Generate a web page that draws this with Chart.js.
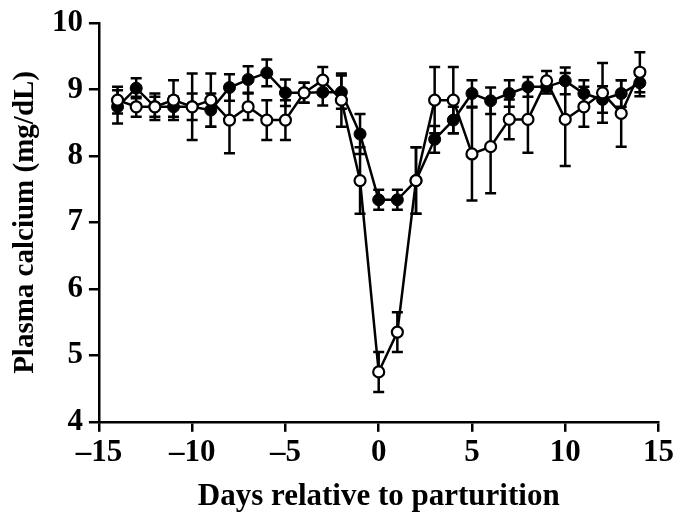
<!DOCTYPE html>
<html>
<head>
<meta charset="utf-8">
<script src="https://cdn.jsdelivr.net/npm/chart.js@4"></script>
<style>
  html, body { margin: 0; padding: 0; background: #fff; }
  #wrap { width: 678px; height: 516px; }
</style>
</head>
<body>
<div id="wrap"><canvas id="calciumChart"></canvas></div>
<script>
const days = [-14, -13, -12, -11, -10, -9, -8, -7, -6, -5, -4, -3, -2, -1, 0, 1, 2, 3, 4, 5, 6, 7, 8, 9, 10, 11, 12, 13, 14];
const filledMean = [8.74, 9.02, 8.74, 8.74, 8.74, 8.69, 9.03, 9.15, 9.25, 8.95, 8.95, 8.96, 8.96, 8.33, 7.34, 7.34, 7.63, 8.25, 8.54, 8.94, 8.83, 8.94, 9.04, 9.04, 9.13, 8.94, 8.85, 8.94, 9.1];
const filledErr = [0.25, 0.15, 0.2, 0.15, 0.2, 0.25, 0.2, 0.2, 0.2, 0.2, 0.15, 0.2, 0.25, 0.3, 0.15, 0.15, 0.5, 0.2, 0.2, 0.2, 0.2, 0.2, 0.15, 0.1, 0.2, 0.2, 0.2, 0.2, 0.2];
const openMean = [8.84, 8.74, 8.74, 8.84, 8.74, 8.84, 8.54, 8.74, 8.54, 8.54, 8.95, 9.14, 8.84, 7.63, 4.75, 5.35, 7.63, 8.84, 8.84, 8.03, 8.14, 8.55, 8.55, 9.13, 8.55, 8.74, 8.95, 8.64, 9.26];
const openErr = [0.2, 0.15, 0.15, 0.3, 0.5, 0.4, 0.5, 0.2, 0.3, 0.3, 0.15, 0.2, 0.4, 0.5, 0.3, 0.3, 0.5, 0.5, 0.5, 0.7, 0.7, 0.3, 0.5, 0.15, 0.7, 0.3, 0.45, 0.5, 0.3];
const xTicks = [-15, -10, -5, 0, 5, 10, 15];
const yTicks = [4, 5, 6, 7, 8, 9, 10];

const fontFamily = '"Liberation Serif", "Times New Roman", serif';

// draws the SEM whiskers under the points
const errorBars = {
  id: 'errorBars',
  beforeDatasetsDraw(chart) {
    const ctx = chart.ctx;
    const x = chart.scales.x;
    const y = chart.scales.y;
    ctx.save();
    ctx.strokeStyle = '#000';
    ctx.lineWidth = 2.5;
    chart.data.datasets.forEach(ds => {
      ds.data.forEach((pt, i) => {
        const e = ds.errors[i];
        const px = x.getPixelForValue(pt.x);
        const top = y.getPixelForValue(pt.y + e);
        const bot = y.getPixelForValue(pt.y - e);
        ctx.beginPath();
        ctx.moveTo(px, top); ctx.lineTo(px, bot);
        ctx.moveTo(px - 5.5, top); ctx.lineTo(px + 5.5, top);
        ctx.moveTo(px - 5.5, bot); ctx.lineTo(px + 5.5, bot);
        ctx.stroke();
      });
    });
    ctx.restore();
  }
};

const toPoints = vals => days.map((d, i) => ({ x: d, y: vals[i] }));

new Chart(document.getElementById('calciumChart'), {
  type: 'line',
  data: {
    datasets: [
      {
        label: 'Open',
        data: toPoints(openMean),
        errors: openErr,
        borderColor: '#000',
        borderWidth: 2.5,
        pointRadius: 5.5,
        pointBorderWidth: 2.2,
        pointBackgroundColor: '#fff',
        pointBorderColor: '#000'
      },
      {
        label: 'Filled',
        data: toPoints(filledMean),
        errors: filledErr,
        borderColor: '#000',
        borderWidth: 2.5,
        pointRadius: 6,
        pointBorderWidth: 1,
        pointBackgroundColor: '#000',
        pointBorderColor: '#000'
      }
    ]
  },
  options: {
    responsive: true,
    maintainAspectRatio: false,
    animation: false,
    layout: { padding: { top: 4, right: 0, left: 10, bottom: 2 } },
    plugins: {
      legend: { display: false },
      tooltip: { enabled: false }
    },
    scales: {
      x: {
        type: 'linear',
        min: -15,
        max: 15,
        afterBuildTicks: axis => { axis.ticks = xTicks.map(v => ({ value: v })); },
        ticks: {
          color: '#000',
          font: { family: fontFamily, size: 31, weight: 'bold', lineHeight: 1.1 },
          padding: 4,
          maxRotation: 0,
          callback: v => (v < 0 ? '\u2013' + Math.abs(v) : String(v))
        },
        grid: { drawOnChartArea: false, color: '#000', lineWidth: 2.5, tickLength: 10 },
        border: { color: '#000', width: 2.5 },
        title: {
          display: true,
          text: 'Days relative to parturition',
          color: '#000',
          font: { family: fontFamily, size: 31, weight: 'bold', lineHeight: 1.1 },
          padding: { top: 6, bottom: 0 }
        }
      },
      y: {
        min: 4,
        max: 10,
        afterBuildTicks: axis => { axis.ticks = yTicks.map(v => ({ value: v })); },
        ticks: {
          color: '#000',
          font: { family: fontFamily, size: 31, weight: 'bold', lineHeight: 1.1 },
          padding: 6
        },
        grid: { drawOnChartArea: false, color: '#000', lineWidth: 2.5, tickLength: 10 },
        border: { color: '#000', width: 2.5 },
        title: {
          display: true,
          text: 'Plasma calcium (mg/dL)',
          color: '#000',
          font: { family: fontFamily, size: 29, weight: 'bold', lineHeight: 1.1 },
          padding: { top: 0, bottom: 4 }
        }
      }
    }
  },
  plugins: [errorBars]
});
</script>
</body>
</html>
